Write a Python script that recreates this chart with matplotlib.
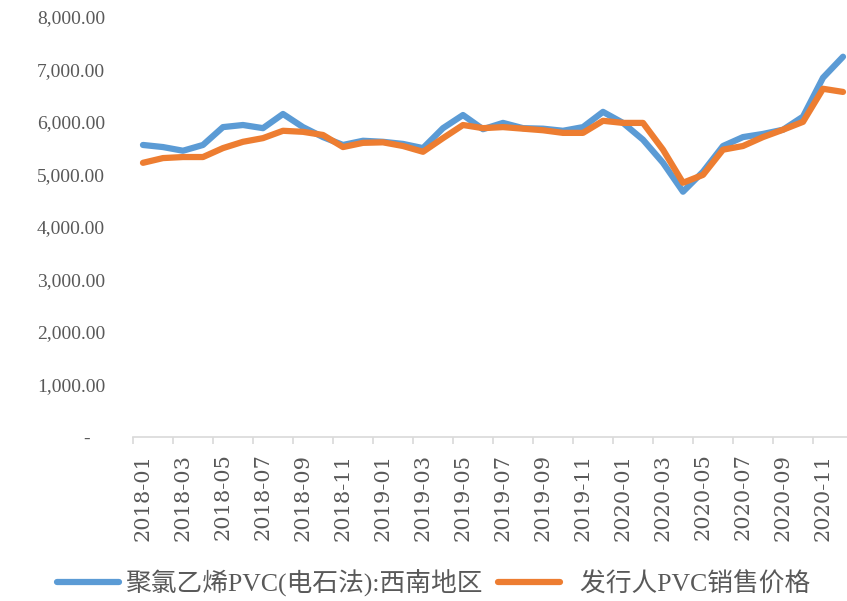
import matplotlib
matplotlib.use("Agg")
import matplotlib.pyplot as plt
from matplotlib.ticker import FuncFormatter, FixedLocator

# monthly data 2018-01 .. 2020-12
months = [f"{y}-{m:02d}" for y in (2018, 2019, 2020) for m in range(1, 13)]

pvc_southwest = [5560, 5520, 5450, 5560, 5900, 5940, 5880, 6150, 5900, 5710,
                 5560, 5640, 5620, 5580, 5500, 5880, 6130, 5860, 5980, 5880,
                 5870, 5830, 5900, 6190, 5980, 5660, 5220, 4670, 5050, 5540,
                 5710, 5770, 5850, 6100, 6840, 7240]
issuer_price = [5220, 5310, 5330, 5330, 5500, 5620, 5690, 5830, 5810, 5750,
                5520, 5600, 5610, 5540, 5430, 5690, 5940, 5880, 5900, 5870,
                5840, 5790, 5790, 6020, 5980, 5980, 5470, 4840, 4990, 5470,
                5540, 5710, 5850, 6000, 6630, 6570]

label_blue = "聚氯乙烯PVC(电石法):西南地区"
label_orange = "  发行人PVC销售价格"

serif = ["Liberation Serif", "DejaVu Serif"]
cjk = ["Liberation Serif", "Noto Sans CJK SC"]

fig = plt.figure(figsize=(8.47, 6.01), dpi=100)
ax = fig.add_axes([0.157, 0.273, 0.843, 0.699])

x = list(range(len(months)))
ax.plot(x, pvc_southwest, color="#5B9BD5", lw=4.5, solid_joinstyle="round",
        solid_capstyle="round", label=label_blue)
ax.plot(x, issuer_price, color="#ED7D31", lw=4.5, solid_joinstyle="round",
        solid_capstyle="round", label=label_orange)

ax.set_xlim(-0.5, 35.2)
ax.set_ylim(0, 8000)
ax.set_yticks(range(0, 8001, 1000))

def fmt(v, pos):
    return "-   " if v == 0 else f"{v:,.2f}"

ax.yaxis.set_major_formatter(FuncFormatter(fmt))
ax.tick_params(axis="y", length=0, pad=20, labelsize=14, labelcolor="#595959")
for t in ax.get_yticklabels():
    t.set_fontfamily(serif)

ax.set_xticks(x[::2])
ax.set_xticklabels(months[::2], rotation=90, fontsize=15, color="#595959",
                   fontfamily=["DejaVu Serif"])
ax.xaxis.set_minor_locator(FixedLocator([i - 0.5 for i in range(0, 36, 2)]))
ax.tick_params(axis="x", which="major", length=0, pad=12)
ax.tick_params(axis="x", which="minor", length=5, color="#d9d9d9", width=1.2)

for s in ("top", "right", "left"):
    ax.spines[s].set_visible(False)
ax.spines["bottom"].set_color("#d9d9d9")
ax.spines["bottom"].set_linewidth(1.2)

fig.legend(loc="center", bbox_to_anchor=(0.512, 1 - 583 / 601), ncol=2,
           frameon=False, handlelength=2.4, handletextpad=0.25,
           columnspacing=0.6, borderpad=0,
           prop={"family": cjk, "size": 18.5}, labelcolor="#595959")

fig.savefig("out.png", dpi=100)
